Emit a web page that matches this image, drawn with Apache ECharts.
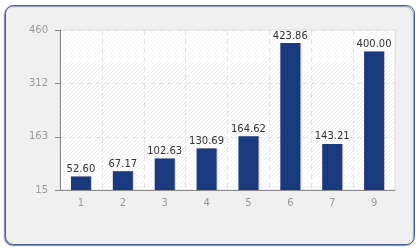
<!DOCTYPE html>
<html><head><meta charset="utf-8">
<script src="https://cdn.jsdelivr.net/npm/echarts@6/dist/echarts.min.js"></script>
<style>html,body{margin:0;padding:0;background:#fff}#c{width:420px;height:250px}</style>
</head><body><div id="c"></div>
<script>
var categories = ['1','2','3','4','5','6','7','9'];
var values = [52.60, 67.17, 102.63, 130.69, 164.62, 423.86, 143.21, 400.00];
var yTicks = [15, 163, 312, 460];

var pc = document.createElement('canvas');
pc.width = 4; pc.height = 4;
var g = pc.getContext('2d');
g.fillStyle = '#ffffff'; g.fillRect(0,0,4,4);
g.strokeStyle = '#ebebeb'; g.lineWidth = 1;
g.beginPath(); g.moveTo(0,4); g.lineTo(4,0); g.moveTo(-1,1); g.lineTo(1,-1); g.moveTo(3,5); g.lineTo(5,3); g.stroke();

var chart = echarts.init(document.getElementById('c'), null, {renderer:'canvas'});
var font = 'DejaVu Sans';
chart.setOption({
  animation: false,
  graphic: [{
    type: 'rect', z: -10, silent: true,
    shape: {x: 5.5, y: 5.5, width: 409, height: 239, r: 8},
    style: {fill: '#f0f0f0', stroke: '#4a5c94', lineWidth: 1, shadowColor: 'rgba(40,60,120,0.5)', shadowOffsetX: -1, shadowOffsetY: 1, shadowBlur: 1}
  }, {
    type: 'rect', z: -9, silent: true,
    shape: {x: 60, y: 30, width: 335, height: 160},
    style: {fill: {image: pc, repeat: 'repeat'}, stroke: '#dddddd', lineWidth: 1}
  }, {
    type: 'rect', z: -8, silent: true,
    shape: {x: 60.5, y: 30.5, width: 334, height: 159},
    style: {fill: new echarts.graphic.LinearGradient(0, 0, 0, 1, [
      {offset: 0, color: 'rgba(255,255,255,0.6)'},
      {offset: 0.45, color: 'rgba(255,255,255,0)'},
      {offset: 1, color: 'rgba(255,255,255,0.4)'}
    ])}
  }],
  grid: {left: 60, right: 25, top: 30, bottom: 60},
  xAxis: {
    type: 'category', data: categories,
    axisLine: {lineStyle: {color: '#888888'}},
    axisTick: {alignWithLabel: true, length: 5, lineStyle: {color: '#888888'}},
    axisLabel: {color: '#999999', fontFamily: font, fontSize: 10, margin: 8},
    splitLine: {show: true, lineStyle: {color: '#e4e4e4', type: [5,4]}}
  },
  yAxis: {
    type: 'value', min: 15, max: 460,
    axisLine: {show: true, lineStyle: {color: '#888888'}},
    axisTick: {show: true, length: 5, lineStyle: {color: '#888888'}, customValues: yTicks},
    axisLabel: {color: '#999999', fontFamily: font, fontSize: 10, margin: 12, customValues: yTicks},
    splitLine: {show: true, lineStyle: {color: '#e4e4e4', type: [5,4]}}
  },
  series: [{
    type: 'bar', data: values, barWidth: 20,
    itemStyle: {color: '#1a3a80', shadowColor: 'rgba(0,0,0,0.2)', shadowOffsetX: 1},
    label: {show: true, position: 'top', distance: 2, color: '#333333', fontFamily: font, fontSize: 10,
      formatter: function(p){ return p.value.toFixed(2); }}
  }]
});
</script></body></html>
